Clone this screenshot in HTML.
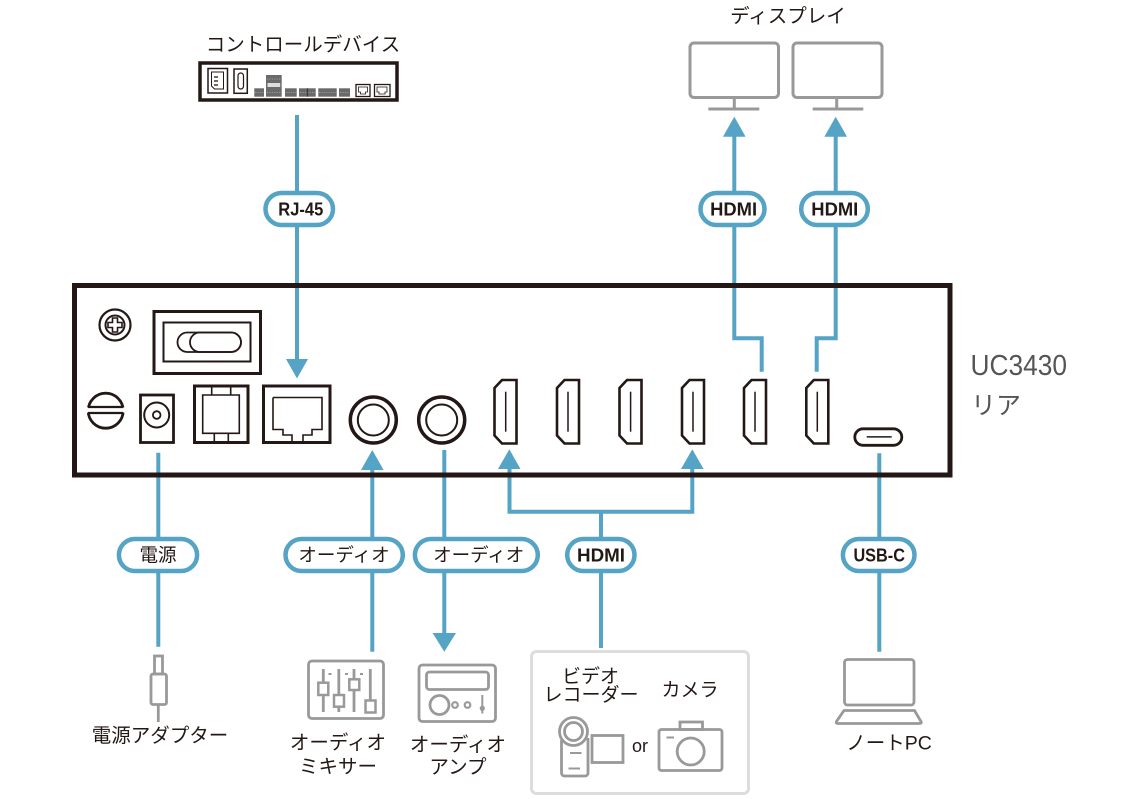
<!DOCTYPE html>
<html><head><meta charset="utf-8"><style>
html,body{margin:0;padding:0;background:#fff;}
svg{display:block;}
.jp{font-family:"Liberation Sans","Noto Sans CJK JP",sans-serif;fill:#231815;}
.b{font-family:"Liberation Sans",sans-serif;font-weight:bold;fill:#231815;}
</style></head><body>
<svg width="1140" height="800" viewBox="0 0 1140 800" xmlns="http://www.w3.org/2000/svg">
<!-- Titles -->
<text class="jp" x="303" y="51" font-size="19.5" text-anchor="middle">コントロールデバイス</text>
<text class="jp" x="788" y="22.5" font-size="19.5" text-anchor="middle">ディスプレイ</text>

<!-- Control device -->
<rect x="200" y="63" width="197" height="37" fill="#fff" stroke="#231815" stroke-width="3.5"/>
<rect x="208" y="68.5" width="19.5" height="24.5" fill="none" stroke="#231815" stroke-width="1.5"/>
<path d="M211.5 72 h12 v17 h-9 l-3 -3 z" fill="none" stroke="#231815" stroke-width="1"/>
<line x1="214" y1="77" x2="218" y2="77" stroke="#231815" stroke-width="1.3"/>
<line x1="214" y1="81" x2="218" y2="81" stroke="#231815" stroke-width="1.3"/>
<line x1="214" y1="85" x2="218" y2="85" stroke="#231815" stroke-width="1.3"/>
<rect x="234" y="69" width="13.3" height="24.3" fill="none" stroke="#231815" stroke-width="1.5"/>
<rect x="238" y="73" width="5.5" height="16" rx="2.7" fill="none" stroke="#231815" stroke-width="1.2"/>
<g fill="#6a6a6a">
<rect x="254.3" y="88.3" width="9.7" height="8.4"/>
<rect x="266" y="75" width="15.7" height="21.7"/>
<rect x="285" y="88.3" width="11.7" height="8.4"/>
<rect x="299" y="88.3" width="16.7" height="8.4"/>
<rect x="318.3" y="88.3" width="18.4" height="8.4"/>
<rect x="339" y="88.3" width="11" height="8.4"/>
</g>
<rect x="267.5" y="83" width="12.7" height="4" fill="#ddd"/>
<g stroke="#aaa" stroke-width="0.8" stroke-dasharray="1.2 1.2">
<line x1="255" y1="92.5" x2="263.5" y2="92.5"/>
<line x1="267" y1="79" x2="281" y2="79"/>
<line x1="267" y1="92.5" x2="281" y2="92.5"/>
<line x1="286" y1="92.5" x2="296" y2="92.5"/>
<line x1="300" y1="92.5" x2="315" y2="92.5"/>
<line x1="319" y1="92.5" x2="336" y2="92.5"/>
<line x1="340" y1="92.5" x2="349.5" y2="92.5"/>
</g>
<line x1="307.3" y1="88.3" x2="307.3" y2="96.7" stroke="#222" stroke-width="0.8"/>
<rect x="356" y="84.5" width="14" height="12" fill="none" stroke="#231815" stroke-width="1.3"/>
<path d="M358.5 87 h9 v5 h-2 v2 h-5 v-2 h-2 z" fill="none" stroke="#231815" stroke-width="0.8"/>
<rect x="374.5" y="84.5" width="15.5" height="12" fill="none" stroke="#231815" stroke-width="1.3"/>
<path d="M377 87 h10 v5 h-2 v2 h-6 v-2 h-2 z" fill="none" stroke="#231815" stroke-width="0.8"/>

<!-- Displays -->
<g fill="none" stroke="#999" stroke-width="3">
<rect x="690" y="43" width="88.5" height="54.5" rx="4"/>
<line x1="734.3" y1="99" x2="734.3" y2="108"/>
<line x1="708.3" y1="109" x2="759.3" y2="109"/>
<rect x="793" y="43" width="89" height="54.5" rx="4"/>
<line x1="836.7" y1="99" x2="836.7" y2="108"/>
<line x1="812.7" y1="109" x2="863.3" y2="109"/>
</g>

<!-- Blue connectors -->
<g fill="none" stroke="#55a3c5" stroke-width="4">
<line x1="297" y1="115" x2="297" y2="362"/>
<polyline points="734.3,134 734.3,338.3 761.7,338.3 761.7,371.7"/>
<polyline points="835.7,134 835.7,338.3 816.7,338.3 816.7,371.7"/>
<polyline points="509.5,466 509.5,511.7 692.3,511.7 692.3,466"/>
<line x1="601" y1="511.7" x2="601" y2="648"/>
<line x1="372.3" y1="466" x2="372.3" y2="651.7"/>
<line x1="444.3" y1="450" x2="444.3" y2="636"/>
<line x1="158.3" y1="452.7" x2="158.3" y2="646.7"/>
<line x1="879.3" y1="453.3" x2="879.3" y2="651.7"/>
</g>
<g fill="#55a3c5">
<polygon points="286,359 308,359 297,378.5"/>
<polygon points="723,136.7 745.6,136.7 734.3,116.7"/>
<polygon points="824.4,136.7 847,136.7 835.7,116.7"/>
<polygon points="498,469 520.5,469 509.3,449.3"/>
<polygon points="681,469 703.6,469 692.3,449.3"/>
<polygon points="361,470 383.6,470 372.3,450"/>
<polygon points="432.6,633 456,633 444.3,651.7"/>
</g>

<!-- Pills -->
<g fill="#fff" stroke="#55a3c5" stroke-width="4.5">
<rect x="265.5" y="193" width="67.5" height="32" rx="16"/>
<rect x="700.5" y="193" width="64" height="32" rx="16"/>
<rect x="801.2" y="193" width="66.6" height="32" rx="16"/>
<rect x="118.9" y="539" width="78.2" height="32" rx="16"/>
<rect x="285.5" y="539" width="117.3" height="32" rx="16"/>
<rect x="414.9" y="539" width="122.9" height="32" rx="16"/>
<rect x="567.2" y="539" width="67.3" height="32" rx="16"/>
<rect x="842.9" y="539" width="71.6" height="32" rx="16"/>
</g>
<text class="b" x="300.8" y="215.5" font-size="18" text-anchor="middle" textLength="45" lengthAdjust="spacingAndGlyphs">RJ-45</text>
<text class="b" x="733.6" y="215.5" font-size="18" text-anchor="middle" textLength="47" lengthAdjust="spacingAndGlyphs">HDMI</text>
<text class="b" x="834.8" y="215.5" font-size="18" text-anchor="middle" textLength="47" lengthAdjust="spacingAndGlyphs">HDMI</text>
<text class="jp" x="158" y="561.5" font-size="18.5" text-anchor="middle">電源</text>
<text class="jp" x="344" y="561.5" font-size="18.5" text-anchor="middle">オーディオ</text>
<text class="jp" x="478.7" y="561.5" font-size="18.5" text-anchor="middle">オーディオ</text>
<text class="b" x="601" y="561.5" font-size="18" text-anchor="middle" textLength="48" lengthAdjust="spacingAndGlyphs">HDMI</text>
<text class="b" x="879.2" y="561.5" font-size="18" text-anchor="middle" textLength="51.5" lengthAdjust="spacingAndGlyphs">USB-C</text>

<!-- Main unit -->
<rect x="74.5" y="285.5" width="875.5" height="189.5" fill="none" stroke="#231815" stroke-width="5"/>
<g fill="none" stroke="#231815">
<circle cx="115" cy="325" r="15.5" stroke-width="2.2"/>
<circle cx="115" cy="325" r="9.5" stroke-width="2"/>
<path d="M112.5 318 h5 v4.5 h4.5 v5 h-4.5 v4.5 h-5 v-4.5 h-4.5 v-5 h4.5 z" stroke-width="1.6"/>
<rect x="154" y="311.5" width="106.5" height="62" stroke-width="3"/>
<rect x="163.5" y="322.5" width="87" height="39" stroke-width="2"/>
<rect x="177.5" y="332.5" width="63.5" height="19.5" rx="9.7" stroke-width="1.8"/>
<rect x="190" y="332.5" width="51" height="19.5" rx="9.7" stroke-width="1.8"/>
<circle cx="105.7" cy="410.7" r="17.5" stroke-width="2.8"/>
</g>
<rect x="85" y="407.3" width="42" height="5.4" fill="#fff"/>
<g fill="none" stroke="#231815">
<line x1="88" y1="407" x2="123.4" y2="407" stroke-width="2.2"/>
<line x1="88" y1="413" x2="123.4" y2="413" stroke-width="2.2"/>
<rect x="140.5" y="395" width="33" height="47.5" stroke-width="2.8"/>
<circle cx="156.7" cy="415" r="12.5" stroke-width="2"/>
<circle cx="156.7" cy="415" r="3.8" stroke-width="1.8"/>
<rect x="194.5" y="386" width="53.5" height="56.5" stroke-width="3"/>
<path d="M202.7 395 h36.6 v38.3 h-36.6 z" stroke-width="1.6"/>
<path d="M211.7 386 v9 M230.7 386 v9" stroke-width="1.6"/>
<path d="M214.3 433.3 v9 M228.3 433.3 v9" stroke-width="1.6"/>
<rect x="263.5" y="386" width="66.5" height="56.5" stroke-width="3"/>
<path d="M273 397.5 h49 v32 h-10 v5.5 h-9 v7.5 M273 397.5 v32 h10 v5.5 h9 v7.5" stroke-width="1.6"/>
<circle cx="373.3" cy="420" r="23" stroke-width="3.5"/>
<circle cx="373.3" cy="420" r="15.5" stroke-width="2"/>
<circle cx="441.7" cy="420" r="23" stroke-width="3.5"/>
<circle cx="441.7" cy="420" r="15.5" stroke-width="2"/>
</g>
<g fill="none" stroke="#231815" stroke-width="2.6">
<path d="M502 380 h14.5 v63.5 h-14.5 l-7.5 -8 v-47.5 z"/>
<path d="M564.5 380 h14.5 v63.5 h-14.5 l-7.5 -8 v-47.5 z"/>
<path d="M627 380 h14.5 v63.5 h-14.5 l-7.5 -8 v-47.5 z"/>
<path d="M689.5 380 h14.5 v63.5 h-14.5 l-7.5 -8 v-47.5 z"/>
<path d="M751.5 380 h14.5 v63.5 h-14.5 l-7.5 -8 v-47.5 z"/>
<path d="M813.8 380 h14.5 v63.5 h-14.5 l-7.5 -8 v-47.5 z"/>
</g>
<g stroke="#231815" stroke-width="1.5">
<line x1="505.7" y1="391.7" x2="505.7" y2="431.7"/>
<line x1="568" y1="391.7" x2="568" y2="431.7"/>
<line x1="630.6" y1="391.7" x2="630.6" y2="431.7"/>
<line x1="693" y1="391.7" x2="693" y2="431.7"/>
<line x1="755" y1="391.7" x2="755" y2="431.7"/>
<line x1="817.3" y1="391.7" x2="817.3" y2="431.7"/>
</g>
<rect x="854.8" y="428.8" width="47" height="16.5" rx="8.2" fill="none" stroke="#231815" stroke-width="2.8"/>
<line x1="866.7" y1="436.9" x2="891.7" y2="436.9" stroke="#231815" stroke-width="1.5"/>

<text x="970.5" y="375" font-family="Liberation Sans, sans-serif" font-size="29" fill="#555" textLength="96.5" lengthAdjust="spacingAndGlyphs">UC3430</text>
<text x="971" y="414" font-family="Liberation Sans, 'Noto Sans CJK JP', sans-serif" font-size="25" fill="#555">リア</text>

<!-- Bottom icons -->
<g fill="none" stroke="#999" stroke-width="2.8">
<rect x="154.5" y="656" width="8" height="18"/>
<rect x="151" y="674" width="15.5" height="30.5" rx="2"/>
<line x1="158.3" y1="704.5" x2="158.3" y2="722"/>
<rect x="308.5" y="661" width="75" height="57.5" rx="3.5"/>
<line x1="323.3" y1="669" x2="323.3" y2="712"/>
<line x1="338.8" y1="669" x2="338.8" y2="712"/>
<line x1="354" y1="669" x2="354" y2="712"/>
<line x1="370.3" y1="669" x2="370.3" y2="700"/>
<line x1="328.5" y1="674" x2="331.5" y2="674" stroke-width="2"/>
<line x1="345" y1="674" x2="348" y2="674" stroke-width="2"/>
<line x1="360" y1="674" x2="363" y2="674" stroke-width="2"/>
<rect x="419" y="665" width="76.5" height="56.5" rx="3.5"/>
<rect x="426.5" y="672" width="62" height="17.5" rx="3"/>
<circle cx="439.5" cy="705" r="9.5"/>
<circle cx="455" cy="705" r="2.8" stroke-width="2.2"/>
<circle cx="467.5" cy="705" r="2.8" stroke-width="2.2"/>
<line x1="482.3" y1="695" x2="482.3" y2="713.5" stroke-width="2"/>
<rect x="531.5" y="651.5" width="217" height="142" rx="5" stroke="#ddd" stroke-width="3"/>
<circle cx="573.5" cy="731.5" r="14"/>
<circle cx="573.5" cy="731.5" r="9"/>
<path d="M561.5 740 v33 a3 3 0 0 0 3 3 h20.5 a3 3 0 0 0 3 -3 v-35"/>
<rect x="592" y="735.5" width="31" height="27"/>
<line x1="570" y1="753" x2="581.5" y2="753" stroke-width="2"/>
<line x1="568.5" y1="768.5" x2="580" y2="768.5" stroke-width="2"/>
<rect x="659" y="729.5" width="63" height="41" rx="2.5"/>
<rect x="680" y="722" width="22.5" height="7.5"/>
<circle cx="690.7" cy="751.5" r="13.5"/>
<line x1="666.5" y1="737.5" x2="674" y2="737.5" stroke-width="2"/>
<rect x="844.5" y="659.5" width="69.5" height="45.5" rx="3"/>
<path d="M844 710.5 h70.5 l6.5 11 q1 2 -1.5 2 h-81.5 q-2.5 0 -1.5 -2 z"/>
</g>
<g fill="#999">
<rect x="318.3" y="682.7" width="10" height="12.3" fill="#fff" stroke="#999" stroke-width="2.5"/>
<rect x="334" y="695" width="10" height="11.7" fill="#fff" stroke="#999" stroke-width="2.5"/>
<rect x="349.3" y="679.3" width="10" height="10.7" fill="#fff" stroke="#999" stroke-width="2.5"/>
<rect x="365.5" y="700.5" width="10" height="12" fill="#fff" stroke="#999" stroke-width="2.5"/>
<circle cx="482.3" cy="708.3" r="2.6"/>
</g>

<!-- Bottom labels -->
<text class="jp" x="160" y="742" font-size="19.5" text-anchor="middle">電源アダプター</text>
<text class="jp" x="338" y="749" font-size="19.5" text-anchor="middle">オーディオ</text>
<text class="jp" x="338" y="773" font-size="19.5" text-anchor="middle">ミキサー</text>
<text class="jp" x="458" y="751" font-size="19.5" text-anchor="middle">オーディオ</text>
<text class="jp" x="458" y="773.5" font-size="19.5" text-anchor="middle">アンプ</text>
<text class="jp" x="590.5" y="682.5" font-size="19" text-anchor="middle">ビデオ</text>
<text class="jp" x="591" y="701" font-size="19" text-anchor="middle">レコーダー</text>
<text class="jp" x="690" y="696" font-size="19" text-anchor="middle">カメラ</text>
<text x="640" y="752" font-family="Liberation Sans, sans-serif" font-size="18" fill="#231815" text-anchor="middle">or</text>
<text class="jp" x="889" y="749.5" font-size="19.5" text-anchor="middle">ノートPC</text>
</svg>
</body></html>
